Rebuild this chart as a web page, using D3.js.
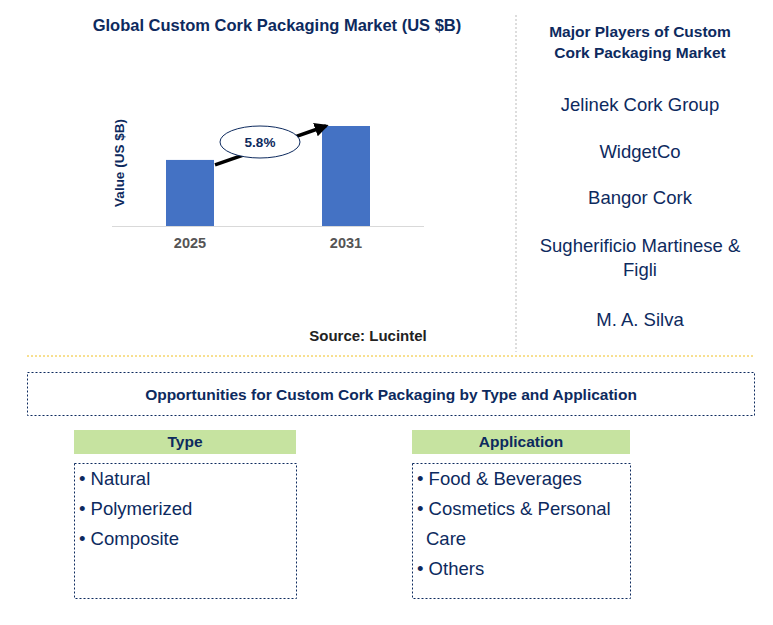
<!DOCTYPE html><html><head><meta charset="utf-8"><script src="https://cdn.jsdelivr.net/npm/d3@7"></script>
<style>body{margin:0;background:#fff}text{font-family:Arial,"Liberation Sans",sans-serif}</style></head><body>
<svg id="c" width="773" height="625"></svg>
<script>
const years=["2025","2031"];
const values=[1.85,2.8];
const cagr="5.8%";
const players=["Jelinek Cork Group","WidgetCo","Bangor Cork","Sugherificio Martinese &|Figli","M. A. Silva"];
const types=["Natural","Polymerized","Composite"];
const apps=["Food & Beverages","Cosmetics & Personal|Care","Others"];
const svg=d3.select("#c");
const navy="#0d2a5e";
svg.append("text").attr("x",277).attr("y",31).attr("text-anchor","middle").attr("font-weight","bold").attr("font-size",16.5).attr("fill",navy).text("Global Custom Cork Packaging Market (US $B)");
const x=d3.scalePoint().domain(years).range([112,424]).padding(0.5);
const y=d3.scaleLinear().domain([0,2.8]).range([226,126]);
const bw=48;
svg.selectAll("rect.b").data(values).join("rect").attr("x",(d,i)=>x(years[i])-bw/2).attr("y",d=>y(d)).attr("width",bw).attr("height",d=>226-y(d)).attr("fill","#4472c4");
svg.append("line").attr("x1",112).attr("x2",424).attr("y1",226.5).attr("y2",226.5).attr("stroke","#d9d9d9");
years.forEach(t=>svg.append("text").attr("x",x(t)).attr("y",248).attr("text-anchor","middle").attr("font-weight","bold").attr("font-size",14.5).attr("fill","#555").text(t));
svg.append("text").attr("transform","translate(124,163) rotate(-90)").attr("text-anchor","middle").attr("font-weight","bold").attr("font-size",13.5).attr("fill",navy).text("Value (US $B)");
svg.append("defs").append("marker").attr("id","ar").attr("viewBox","0 0 10 10").attr("refX",8).attr("refY",5).attr("markerWidth",4).attr("markerHeight",4).attr("orient","auto").append("path").attr("d","M0,0L10,5L0,10z").attr("fill","#000");
svg.append("line").attr("x1",x(years[0])+bw/2+1).attr("y1",y(values[0])+5).attr("x2",x(years[1])-bw/2+4).attr("y2",y(values[1])).attr("stroke","#000").attr("stroke-width",3.5).attr("marker-end","url(#ar)");
svg.append("ellipse").attr("cx",260).attr("cy",142).attr("rx",40).attr("ry",16).attr("fill","#fff").attr("stroke",navy);
svg.append("text").attr("x",260).attr("y",147).attr("text-anchor","middle").attr("font-weight","bold").attr("font-size",13.5).attr("fill",navy).text(cagr);
svg.append("text").attr("x",368).attr("y",341).attr("text-anchor","middle").attr("font-weight","bold").attr("font-size",15).attr("fill","#222").text("Source: Lucintel");
svg.append("line").attr("x1",516).attr("x2",516).attr("y1",15).attr("y2",352).attr("stroke","#bbb").attr("stroke-dasharray","2,2");
svg.append("line").attr("x1",27).attr("x2",755).attr("y1",356).attr("y2",356).attr("stroke","#f0c020").attr("stroke-dasharray","2,2");
["Major Players of Custom","Cork Packaging Market"].forEach((t,i)=>svg.append("text").attr("x",640).attr("y",37+i*21).attr("text-anchor","middle").attr("font-weight","bold").attr("font-size",15.5).attr("fill",navy).text(t));
const py=[111,158,204,252,326];
players.forEach((p,i)=>p.split("|").forEach((l,j)=>svg.append("text").attr("x",640).attr("y",py[i]+j*24).attr("text-anchor","middle").attr("font-size",18.5).attr("fill",navy).text(l)));
svg.append("rect").attr("x",27.5).attr("y",372.5).attr("width",727).attr("height",43).attr("fill","none").attr("stroke",navy).attr("stroke-dasharray","2,2");
svg.append("text").attr("x",391).attr("y",400).attr("text-anchor","middle").attr("font-weight","bold").attr("font-size",15.5).attr("fill",navy).text("Opportunities for Custom Cork Packaging by Type and Application");
function panel(x0,w,title,items){
 svg.append("rect").attr("x",x0).attr("y",430).attr("width",w).attr("height",24).attr("fill","#c6e3a0");
 svg.append("text").attr("x",x0+w/2).attr("y",447).attr("text-anchor","middle").attr("font-weight","bold").attr("font-size",15.5).attr("fill",navy).text(title);
 svg.append("rect").attr("x",x0+0.5).attr("y",463.5).attr("width",w).attr("height",135).attr("fill","none").attr("stroke",navy).attr("stroke-dasharray","2,2");
 let k=0;items.forEach(it=>it.split("|").forEach((l,j)=>{svg.append("text").attr("x",x0+(j?14:5)).attr("y",485+k*30).attr("font-size",18.5).attr("fill",navy).text((j?"":"• ")+l);k++;}));
}
panel(74,222,"Type",types);panel(412,218,"Application",apps);
</script></body></html>
